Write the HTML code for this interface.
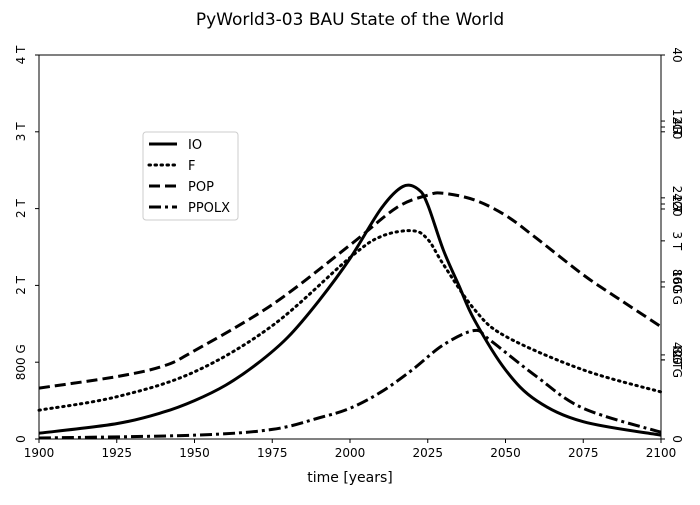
<!DOCTYPE html>
<html><head><meta charset="utf-8"><style>
body{margin:0;background:#fff;font-family:"Liberation Sans","DejaVu Sans",sans-serif}
svg text{font-family:"DejaVu Sans","Liberation Sans",sans-serif;fill:#000}
</style></head><body>
<svg id="chart" width="700" height="500" viewBox="0 0 700 500" xmlns="http://www.w3.org/2000/svg">
<text x="350" y="25" font-size="17" text-anchor="middle">PyWorld3-03 BAU State of the World</text>
<g id="plot"></g>
<rect x="39" y="55" width="622" height="384" fill="none" stroke="#000" stroke-width="1"/>
<text x="350" y="482" font-size="14" text-anchor="middle">time [years]</text>
<g>
<rect x="143" y="132" width="95" height="88" rx="3" fill="#fff" fill-opacity="0.8" stroke="#ccc"/>
<line x1="149" y1="144" x2="177" y2="144" stroke="#000" stroke-width="3"/><text x="188" y="149" font-size="13">IO</text>
<line x1="149" y1="165" x2="177" y2="165" stroke="#000" stroke-width="3" stroke-dasharray="1.5,4.5" stroke-linecap="round"/><text x="188" y="170" font-size="13">F</text>
<line x1="149" y1="186" x2="177" y2="186" stroke="#000" stroke-width="3" stroke-dasharray="11,5"/><text x="188" y="191" font-size="13">POP</text>
<line x1="149" y1="207" x2="177" y2="207" stroke="#000" stroke-width="3" stroke-dasharray="12,4,3,4"/><text x="188" y="212" font-size="13">PPOLX</text>
</g>
</svg>
<script>
const years=[1900,1925,1940,1950,1960,1970,1980,1990,2000,2010,2017,2022,2025,2030,2035,2040,2050,2060,2075,2100];
const ioVals=[0.06,0.16,0.28,0.40,0.56,0.78,1.06,1.44,1.88,2.40,2.63,2.60,2.44,1.97,1.60,1.24,0.72,0.40,0.18,0.04];
const fYears=[1900,1925,1950,1975,2000,2010,2020,2025,2030,2040,2050,2075,2100];
const fVals=[0.30,0.44,0.70,1.18,1.89,2.11,2.17,2.08,1.82,1.35,1.07,0.72,0.49];
const popYears=[1900,1925,1940,1950,1975,2000,2015,2025,2030,2040,2050,2060,2075,2085,2100];
const popVals=[0.53,0.65,0.76,0.92,1.40,2.02,2.41,2.54,2.56,2.49,2.33,2.09,1.71,1.49,1.17];
const ppYears=[1900,1950,1975,1990,2000,2010,2020,2030,2040,2045,2060,2075,2100];
const ppVals=[0.01,0.04,0.10,0.22,0.32,0.49,0.72,0.98,1.13,1.03,0.65,0.32,0.07];
const xTicks=[1900,1925,1950,1975,2000,2025,2050,2075,2100];
const leftTickVals=[0,0.8,1.6,2.4,3.2,4];
const leftTickLabels=["0","800 G","2 T","2 T","3 T","4 T"];
const rightTickFracs=[0,0.219,0.206,0.206,0.409,0.396,0.516,0.628,0.612,0.599,0.828,0.8125,0.80,1];
const rightTickLabels=["0","8G","400 G","2 T","16G","800 G","3 T","24G","2 T","20","12G","4 T","10","40"];
const X0=39,X1=661,Y0=439,Y1=55;
const xs=v=>X0+(v-1900)/200*(X1-X0);
const ys=(v,max)=>Y0-v/max*(Y0-Y1);
const NS="http://www.w3.org/2000/svg";
const g=document.getElementById('plot');
function mk(t,a){const e=document.createElementNS(NS,t);for(const k in a)e.setAttribute(k,a[k]);return e;}
function path(xsA,vs,max){const p=xsA.map((x,i)=>[xs(x),ys(vs[i],max)]);let d="M"+p[0][0]+","+p[0][1];
for(let i=0;i<p.length-1;i++){const a=p[Math.max(0,i-1)],b=p[i],c=p[i+1],e=p[Math.min(p.length-1,i+2)];
d+=" C"+(b[0]+(c[0]-a[0])/6)+","+(b[1]+(c[1]-a[1])/6)+" "+(c[0]-(e[0]-b[0])/6)+","+(c[1]-(e[1]-b[1])/6)+" "+c[0]+","+c[1];}return d;}
const series=[["io-line",years,ioVals,4,""],["f-line",fYears,fVals,4,"1.5,4.5"],["pop-line",popYears,popVals,4,"11,5"],["ppolx-line",ppYears,ppVals,4,"12,4,3,4"]];
series.forEach(s=>{const e=mk('path',{d:path(s[1],s[2],s[3]),fill:'none',stroke:'#000','stroke-width':3,'stroke-dasharray':s[4],'stroke-linecap':s[4]==="1.5,4.5"?'round':'butt'});


g.appendChild(e);});
xTicks.forEach(t=>{const x=xs(t);g.appendChild(mk('line',{x1:x,x2:x,y1:Y0,y2:Y0+4,stroke:'#000'}));
const tx=mk('text',{x:x,y:Y0+18,'font-size':12,'text-anchor':'middle'});tx.textContent=t;


g.appendChild(tx);});
leftTickVals.forEach((v,i)=>{const y=ys(v,4);g.appendChild(mk('line',{x1:X0-4,x2:X0,y1:y,y2:y,stroke:'#000'}));
const tx=mk('text',{x:0,y:0,'font-size':12,'text-anchor':'middle',transform:`translate(25,${y}) rotate(-90)`});tx.textContent=leftTickLabels[i];


g.appendChild(tx);});
rightTickFracs.forEach((f,i)=>{const y=Y0-f*(Y0-Y1);g.appendChild(mk('line',{x1:X1,x2:X1+4,y1:y,y2:y,stroke:'#000'}));
const tx=mk('text',{x:0,y:0,'font-size':12,'text-anchor':'middle',transform:`translate(673,${y}) rotate(90)`});tx.textContent=rightTickLabels[i];


g.appendChild(tx);});
</script>
</body></html>
